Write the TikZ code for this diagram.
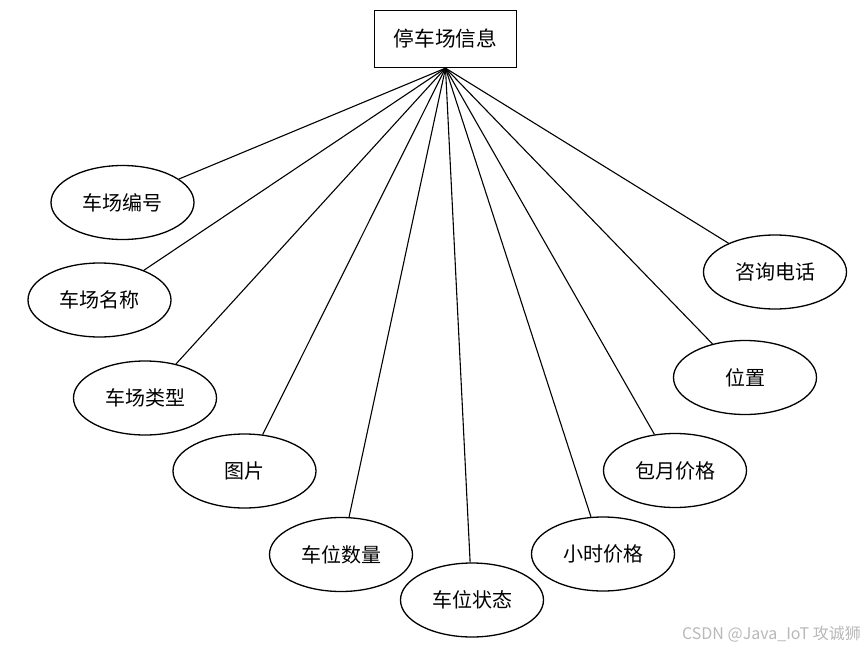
\documentclass[tikz,border=0pt]{standalone}
\usepackage{fontspec}
\newfontfamily\cjk{Noto Sans CJK SC}
\usetikzlibrary{shapes.geometric}
\begin{document}
\begin{tikzpicture}[x=1pt,y=-1pt,
  attr/.style={draw, ellipse, line width=1.3pt, minimum width=143pt, minimum height=74pt, inner sep=0pt, font=\cjk\fontsize{20}{22}\selectfont},
  entity/.style={draw, rectangle, line width=1.3pt, minimum width=142pt, minimum height=57pt, inner sep=0pt, font=\cjk\fontsize{20.7}{23}\selectfont},
  link/.style={line width=1.1pt}]
\useasboundingbox (0,0) rectangle (865,650);
\node[entity] (top) at (445.5,39) {停车场信息};
\node[attr] (a1) at (122.5,202.5) {车场编号};
\node[attr] (a2) at (99.5,300) {车场名称};
\node[attr] (a3) at (145,398) {车场类型};
\node[attr] (a4) at (244.5,471) {图片};
\node[attr] (a5) at (341,554.5) {车位数量};
\node[attr] (a6) at (472,600) {车位状态};
\node[attr] (a7) at (603,554) {小时价格};
\node[attr] (a8) at (675,470.5) {包月价格};
\node[attr] (a9) at (745,377.5) {位置};
\node[attr] (a10) at (775,272) {咨询电话};
\foreach \i in {1,...,10} {\draw[link] (top.south) -- (a\i);}
\node[anchor=east, text=black!28, font=\cjk\fontsize{16}{18}\selectfont, inner sep=0pt] (wm) at (861,634) {CSDN @Java\_IoT 攻诚狮};
\end{tikzpicture}
\end{document}
